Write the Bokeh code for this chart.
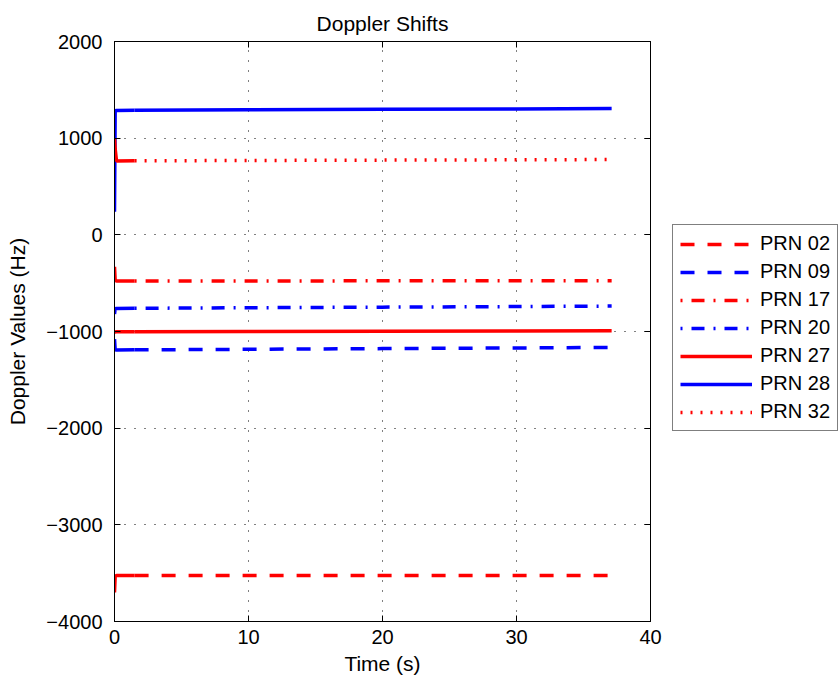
from bokeh.plotting import figure
from bokeh.layouts import row
from bokeh.models import Range1d, LinearAxis, Legend, LegendItem, FixedTicker
from bokeh.embed import file_html
from bokeh.resources import INLINE

# ---- data ----
time = [0.0, 0.05, 0.15, 1.5, 10.0, 20.0, 30.0, 37.1]
pull_in_index = 3  # samples up to t = 1.5 s form the dense acquisition segment

prn02 = [-3700, -3530, -3525, -3525, -3525, -3524, -3523, -3523]
prn09 = [-1080, -1190, -1192, -1190, -1184, -1177, -1170, -1165]
prn17 = [-330, -470, -478, -477, -477, -476, -476, -476]
prn20 = [-820, -765, -762, -760, -754, -748, -742, -737]
prn27 = [-1000, -1004, -1003, -1003, -1001, -998, -995, -993]
prn28 = [240, 1280, 1287, 1288, 1293, 1298, 1303, 1306]
prn32 = [1000, 890, 765, 766, 769, 773, 776, 779]

labels = ["PRN 02", "PRN 09", "PRN 17", "PRN 20", "PRN 27", "PRN 28", "PRN 32"]
series = [prn02, prn09, prn17, prn20, prn27, prn28, prn32]
colors = ["#ff0000", "#0000ff", "#ff0000", "#0000ff", "#ff0000", "#0000ff", "#ff0000"]
dashes = ["14 13", "14 13", "2 9 13 9", "2 9 13 9", "solid", "solid", "2 8"]

x_ticks = [0, 10, 20, 30, 40]
y_ticks = [-4000, -3000, -2000, -1000, 0, 1000, 2000]
y_tick_labels = ["\u22124000", "\u22123000", "\u22122000", "\u22121000", "0", "1000", "2000"]

FONT = "Liberation Sans"

p = figure(frame_width=536, frame_height=580, output_backend="svg", toolbar_location=None,
           x_range=Range1d(0, 40), y_range=Range1d(-4000, 2000),
           min_border_left=114, min_border_right=22, min_border_top=41, min_border_bottom=63,
           title="Doppler Shifts")

p.title.text_font = FONT
p.title.text_font_size = "21px"
p.title.text_font_style = "normal"
p.title.align = "center"
p.title.text_color = "black"
p.title.standoff = 14

p.outline_line_color = "black"
p.outline_line_width = 1

def style_axis(ax, show_labels=True, ticks=None):
    ax.major_tick_in = 6
    ax.major_tick_out = 0
    ax.minor_tick_in = 0
    ax.minor_tick_out = 0
    ax.axis_line_color = "black"
    ax.major_tick_line_color = "black"
    if show_labels:
        ax.major_label_text_font = FONT
        ax.major_label_text_font_size = "20px"
        ax.major_label_text_color = "black"
        ax.axis_label_text_font = FONT
        ax.axis_label_text_font_size = "21px"
        ax.axis_label_text_font_style = "normal"
        ax.axis_label_text_color = "black"
    else:
        ax.major_label_overrides = {t: "" for t in ticks}
        ax.major_label_text_font_size = "1px"
        ax.major_label_standoff = 0

p.xaxis.ticker = FixedTicker(ticks=x_ticks)
p.yaxis.ticker = FixedTicker(ticks=y_ticks)
p.yaxis.major_label_overrides = {v: s for v, s in zip(y_ticks, y_tick_labels)}
p.xaxis.axis_label = "Time (s)"
p.yaxis.axis_label = "Doppler Values (Hz)"
style_axis(p.xaxis[0])
style_axis(p.yaxis[0])
p.xaxis.major_label_standoff = 8
p.yaxis.major_label_standoff = 12
p.xaxis.axis_label_standoff = 5
p.yaxis.axis_label_standoff = 14

top = LinearAxis(ticker=FixedTicker(ticks=x_ticks))
style_axis(top, show_labels=False, ticks=x_ticks)
p.add_layout(top, "above")
right = LinearAxis(ticker=FixedTicker(ticks=y_ticks))
style_axis(right, show_labels=False, ticks=y_ticks)
p.add_layout(right, "right")

p.xgrid.ticker = FixedTicker(ticks=x_ticks)
p.ygrid.ticker = FixedTicker(ticks=y_ticks)
for g in (p.xgrid[0], p.ygrid[0]):
    g.grid_line_color = "black"
    g.grid_line_width = 1
    g.grid_line_dash = "1 9"

# legend panel: a companion figure holding the legend (its copies of the lines lie outside its range)
pl = figure(width=168, height=684, output_backend="svg", toolbar_location=None,
            x_range=Range1d(1000, 1001), y_range=Range1d(0, 1),
            x_axis_location=None, y_axis_location=None, min_border=0)
pl.outline_line_color = None
pl.grid.visible = False

items = []
k = pull_in_index
for lab, vals, col, dash in zip(labels, series, colors, dashes):
    p.line(time[:k + 1], vals[:k + 1], line_color=col, line_width=3.5)
    p.line(time[k:], vals[k:], line_color=col, line_width=3.5, line_dash=dash)
    r = pl.line(time[k:], vals[k:], line_color=col, line_width=3.5, line_dash=dash)
    items.append(LegendItem(label=lab, renderers=[r]))

legend = Legend(items=items, location=(0, 190))
legend.border_line_color = "black"
legend.border_line_width = 1
legend.background_fill_color = "white"
legend.background_fill_alpha = 1
legend.padding = 7
legend.spacing = 5
legend.margin = 0
legend.glyph_width = 72
legend.glyph_height = 22
legend.label_height = 22
legend.label_standoff = 8
legend.label_text_font = FONT
legend.label_text_font_size = "20px"
legend.label_text_color = "black"
pl.add_layout(legend, "center")

layout = row(p, pl, spacing=0)
open("out.html", "w").write(file_html(layout, INLINE))
